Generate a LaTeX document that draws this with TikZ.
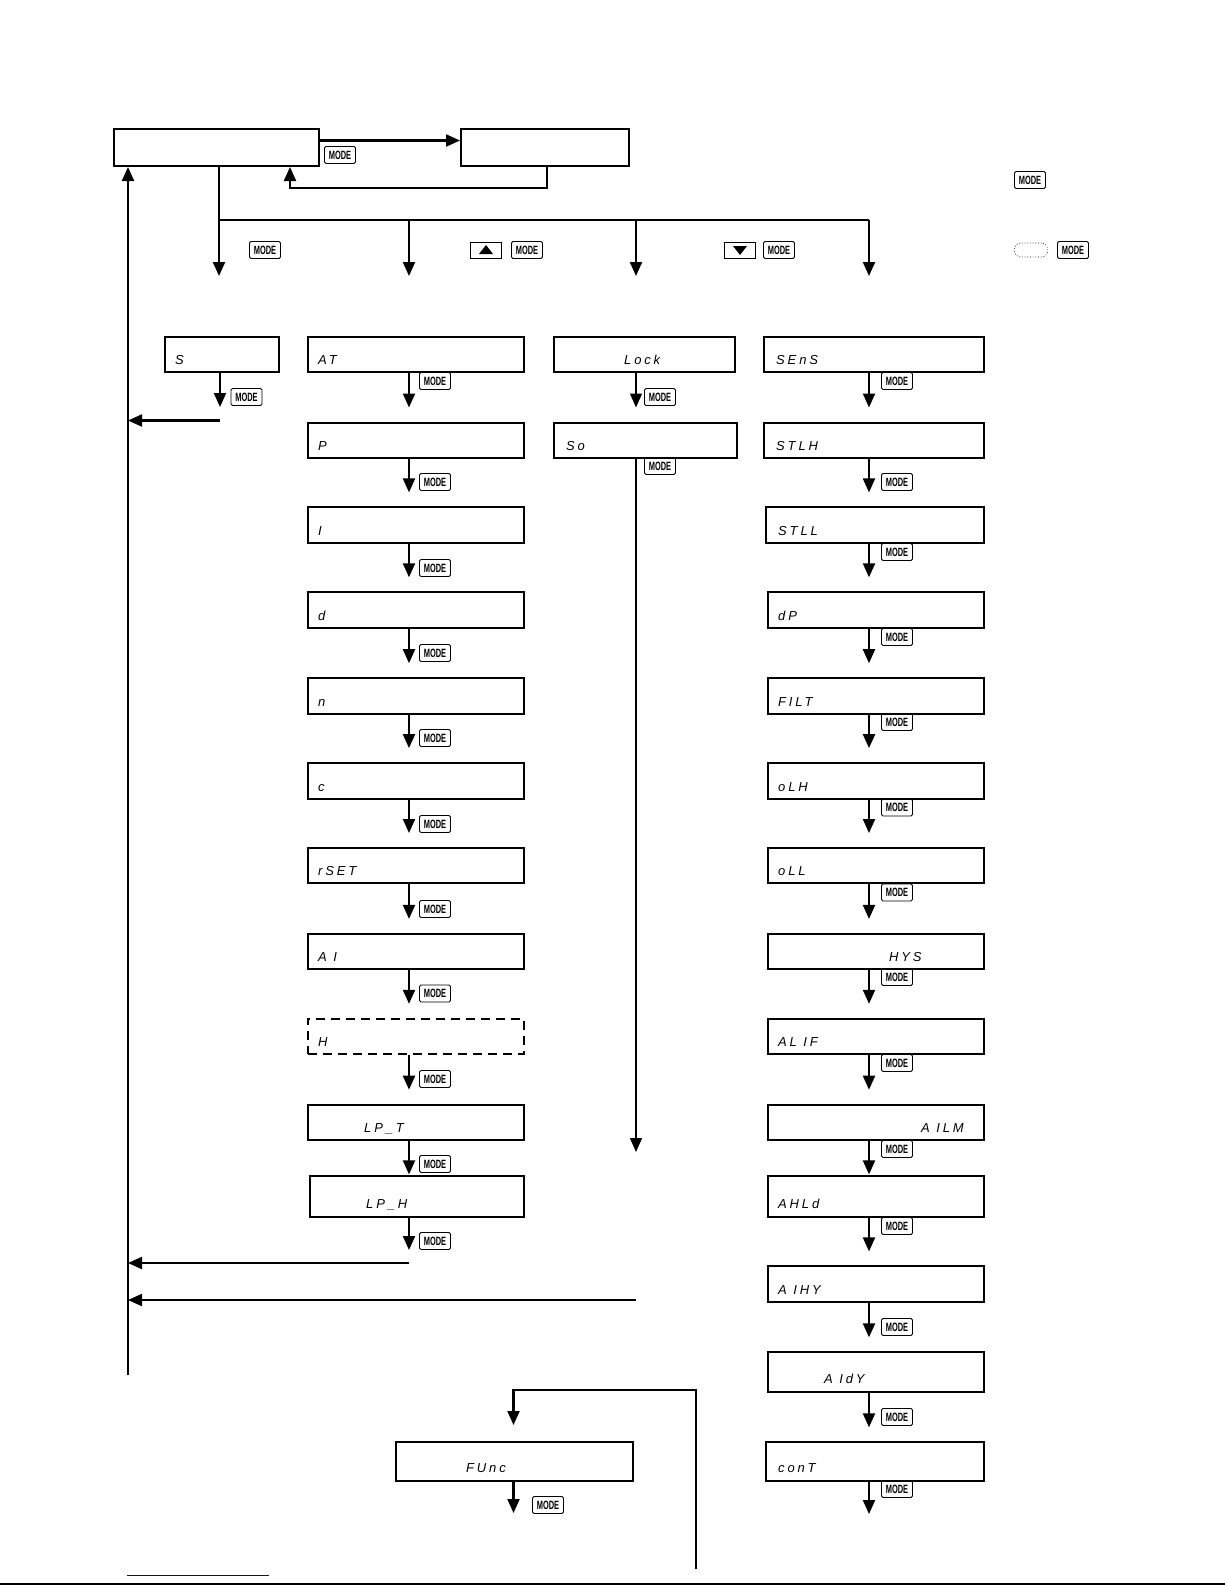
\documentclass[tikz,border=0pt]{standalone}
\usepackage{fontspec}
\setmainfont{Liberation Sans}
\newfontfamily\segf[LetterSpace=22]{Liberation Sans}
\usetikzlibrary{arrows.meta}
\newcommand\mk{\scalebox{0.62}[1]{\bfseries MODE}}
\newcommand\dispbox[6][disp]{\node[#1, minimum width=#5pt, minimum height=#6pt] (#2) at (#3,#4) {};}
\tikzset{
 disp/.style={draw, line width=2pt, inner sep=0pt, anchor=north west},
 dispdash/.style={disp, dash pattern=on 9pt off 6pt},
 seg/.style={font=\segf\fontsize{13}{13}\selectfont\itshape, inner sep=0pt, anchor=base west},
 modekey/.style={draw, line width=0.8pt, rounded corners=1.5pt, minimum width=31pt, minimum height=17pt, inner sep=0pt, font=\fontsize{12}{12}\selectfont},
 btn/.style={draw, line width=0.8pt, minimum width=31pt, minimum height=16pt, inner sep=0pt},
 arr/.style={line width=2.1pt, -{Triangle[length=14pt,width=12pt]}},
 thinarr/.style={line width=1.4pt, -{Triangle[length=14pt,width=12pt]}},
 ln/.style={line width=2.1pt},
}
\begin{document}
\begin{tikzpicture}[x=1pt,y=-1pt]
\useasboundingbox (0,0) rectangle (1225,1585);
% top boxes
\dispbox{A}{113}{128}{205}{37}
\dispbox{B}{460}{128}{168}{37}
\draw[arr] ([yshift=7pt]A.east) -- ([yshift=7pt]B.west);
\node[modekey] (mA) at (340,155) {\mk};
\coordinate (r1) at (547,188);
\coordinate (r2) at (290,188);
\draw[arr] (B.south -| r1) -- (r1) -- (r2) -- (A.south -| r2);
% branch
\coordinate (br) at (219,220);
\coordinate (be) at (869,220);
\coordinate (d1) at (219,276);
\coordinate (d2) at (409,276);
\coordinate (d3) at (636,276);
\coordinate (d4) at (869,276);
\draw[ln] (br) -- (be);
\draw[arr] (A.south -| br) -- (d1);
\draw[arr] (d2 |- br) -- (d2);
\draw[arr] (d3 |- br) -- (d3);
\draw[arr] (be) -- (d4);
% branch labels
\node[modekey] (m1) at (265,250) {\mk};
\node[btn] (up) at (486,250) {};
\fill ([shift={(-7,4)}]up.center) -- ([shift={(7,4)}]up.center) -- ([shift={(0,-5)}]up.center) -- cycle;
\node[modekey] (m2) at (527,250) {\mk};
\node[btn] (dn) at (740,250) {};
\fill ([shift={(-7,-4)}]dn.center) -- ([shift={(7,-4)}]dn.center) -- ([shift={(0,5)}]dn.center) -- cycle;
\node[modekey] (m3) at (779,250) {\mk};
\node[modekey] (m4) at (1030,180) {\mk};
\node[draw, dotted, line width=0.7pt, rounded corners=6pt, minimum width=33pt, minimum height=14pt, inner sep=0pt] (dot) at (1031,250) {};
\node[modekey] (m5) at (1073,250) {\mk};
% left return line
\coordinate (lb) at (128,1375);
\draw[arr] (lb) -- (A.south -| lb);
% column 1
\dispbox{S}{164}{335.6}{114}{35.4}
\node[seg] (tS) at (175,364) {S};
\coordinate (s1) at (220,407);
\draw[arr] (S.south -| s1) -- (s1);
\node[modekey] (ms) at (246.5,397) {\mk};
\coordinate (s2) at (220,420.5);
\coordinate (s3) at (128,420.5);
\draw[arr] (s2) -- (s3);
% column 2
\coordinate (c2) at (409,0);
\dispbox{AT}{307}{335.6}{216}{35.4}
\dispbox{P}{307}{421.5}{216}{35.4}
\dispbox{I}{307}{506.4}{216}{35.4}
\dispbox{D}{307}{591.3}{216}{35.4}
\dispbox{N}{307}{677.2}{216}{35.4}
\dispbox{C}{307}{762.1}{216}{35.4}
\dispbox{RS}{307}{847.0}{216}{35.4}
\dispbox{AI}{307}{932.9}{216}{35.4}
\dispbox[dispdash]{H}{307}{1017.8}{216}{35.4}
\dispbox{LT}{307}{1103.7}{216}{35.4}
\dispbox{LH}{309}{1175.4}{214}{40.4}
\node[seg] at (318,364) {AT};
\node[seg] at (318,450) {P};
\node[seg] at (318,535) {I};
\node[seg] at (318,620) {d};
\node[seg] at (318,706) {n};
\node[seg] at (318,791) {c};
\node[seg] at (318,875) {rSET};
\node[seg] at (318,961) {A I};
\node[seg] at (318,1046) {H};
\node[seg] at (364,1132) {LP\_T};
\node[seg] at (366,1208) {LP\_H};
\foreach \a/\b in {AT/P,P/I,I/D,D/N,N/C,C/RS,RS/AI,AI/H,H/LT}
  \draw[arr, shorten >=14pt] (\a.south -| c2) -- (\b.north -| c2);
\draw[arr, shorten >=1pt] (LT.south -| c2) -- (LH.north -| c2);
\coordinate (l1) at (409,1250);
\draw[arr] (LH.south -| c2) -- (l1);
\foreach \y in {381,482,568,653,738,824,909,993.5,1079,1164,1241}
  \node[modekey] at (435,\y) {\mk};
\coordinate (rr1) at (409,1263);
\coordinate (rr2) at (128,1263);
\draw[arr] (rr1) -- (rr2);
% column 3
\dispbox{LK}{553}{335.6}{181}{35.4}
\dispbox{SO}{553}{421.5}{183}{35.4}
\node[seg] at (624,364) {Lock};
\node[seg] at (566,450) {So};
\coordinate (c3) at (636,0);
\draw[thinarr, shorten >=14pt] (LK.south -| c3) -- (SO.north -| c3);
\coordinate (so1) at (636,1152);
\draw[thinarr] (SO.south -| c3) -- (so1);
\node[modekey] at (660,397) {\mk};
\node[modekey] at (660,466) {\mk};
\coordinate (rq1) at (636,1300);
\coordinate (rq2) at (128,1300);
\draw[arr] (rq1) -- (rq2);
% column 4
\coordinate (c4) at (869,0);
\dispbox{SE}{763}{335.6}{220}{35.4}
\dispbox{TH}{763}{421.5}{220}{35.4}
\dispbox{TL}{765}{506.4}{218}{35.4}
\dispbox{DP}{767}{591.3}{216}{35.4}
\dispbox{FI}{767}{677.2}{216}{35.4}
\dispbox{OH}{767}{762.1}{216}{35.4}
\dispbox{OL}{767}{847.0}{216}{35.4}
\dispbox{HY}{767}{932.9}{216}{35.4}
\dispbox{AF}{767}{1017.8}{216}{35.4}
\dispbox{AM}{767}{1103.7}{216}{35.4}
\dispbox{AH}{767}{1175.4}{216}{40.4}
\dispbox{AY}{767}{1265.4}{216}{35.4}
\dispbox{AD}{767}{1351.3}{216}{39.4}
\dispbox{CT}{765}{1441.3}{218}{38.4}
\node[seg] at (776,364) {SEnS};
\node[seg] at (776,450) {STLH};
\node[seg] at (778,535) {STLL};
\node[seg] at (778,620) {dP};
\node[seg] at (778,706) {FILT};
\node[seg] at (778,791) {oLH};
\node[seg] at (778,875) {oLL};
\node[seg] at (889,961) {HYS};
\node[seg] at (778,1046) {AL IF};
\node[seg] at (921,1132) {A ILM};
\node[seg] at (778,1208) {AHLd};
\node[seg] at (778,1294) {A IHY};
\node[seg] at (824,1383) {A IdY};
\node[seg] at (778,1472) {conT};
\foreach \a/\b in {SE/TH,TH/TL,TL/DP,DP/FI,FI/OH,OH/OL,OL/HY,HY/AF,AF/AM,AH/AY,AY/AD,AD/CT}
  \draw[arr, shorten >=14pt] (\a.south -| c4) -- (\b.north -| c4);
\draw[arr, shorten >=1pt] (AM.south -| c4) -- (AH.north -| c4);
\coordinate (ct1) at (869,1514);
\draw[arr] (CT.south -| c4) -- (ct1);
\foreach \y in {381,482,552,637,722,807.5,892.5,977,1063,1149,1226,1327,1417,1489}
  \node[modekey] at (897,\y) {\mk};
% FUNC
\dispbox{FU}{395}{1441}{237}{39}
\node[seg] at (466,1472) {FUnc};
\coordinate (f0) at (696,1569);
\coordinate (f1) at (696,1390);
\coordinate (f2) at (513.5,1390);
\draw[arr, shorten >=16pt] (f0) -- (f1) -- (f2) -- (FU.north -| f2);
\coordinate (f3) at (513.5,1513);
\draw[arr] (FU.south -| f3) -- (f3);
\node[modekey] at (548,1505) {\mk};
% bottom rules
\coordinate (bl1) at (0,1584);
\coordinate (bl2) at (1225,1584);
\draw[line width=1.6pt] (bl1) -- (bl2);
\coordinate (u1) at (127,1575);
\coordinate (u2) at (269,1575);
\draw[line width=1pt, blue!80!black] (u1) -- (u2);
\end{tikzpicture}
\end{document}
